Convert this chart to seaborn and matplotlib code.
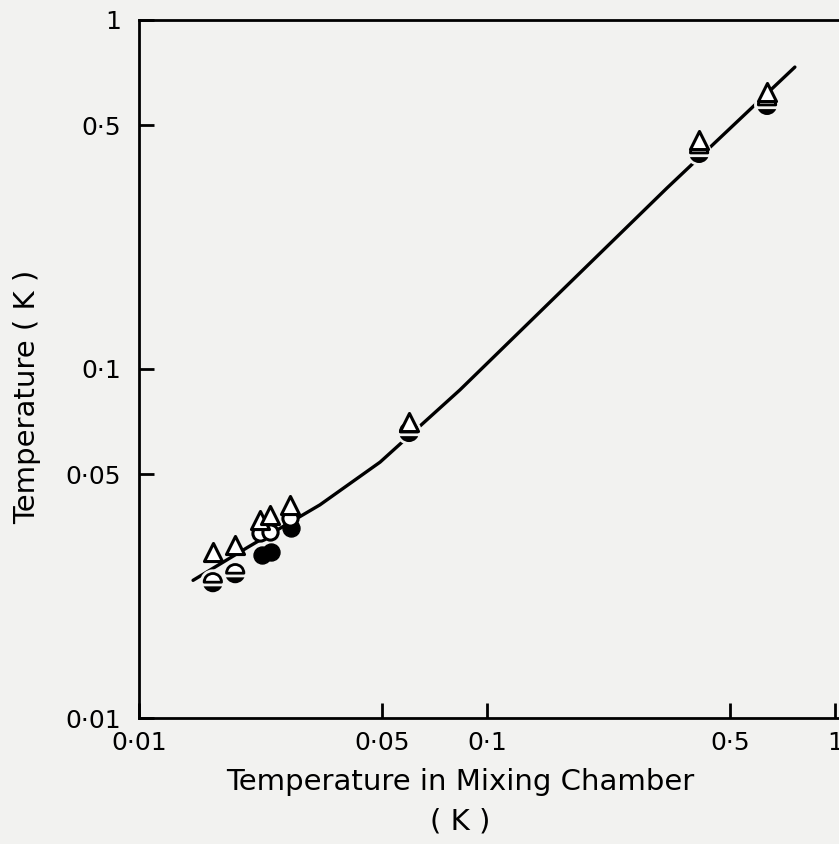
import numpy as np
import pandas as pd
import seaborn as sns
from matplotlib import pyplot as plt
from matplotlib import patheffects as pe
from matplotlib.ticker import FixedLocator, NullLocator, FixedFormatter

# mixing chamber temperature vs measured temperature (K)
tri_x = [0.0163, 0.0189, 0.0223, 0.0238, 0.0272, 0.0597, 0.407, 0.638]
tri_y = [0.0299, 0.0313, 0.0369, 0.0382, 0.0408, 0.0705, 0.453, 0.622]

open_x = [0.0223, 0.0238, 0.0272]
open_y = [0.0339, 0.0341, 0.0374]

half_x = [0.0163, 0.0189, 0.0597, 0.407, 0.638]
half_y = [0.0245, 0.0260, 0.0660, 0.416, 0.571]

full_x = [0.0225, 0.0240, 0.0273]
full_y = [0.0293, 0.0299, 0.0350]

curve_x = [0.0143, 0.0206, 0.0331, 0.0493, 0.0836, 0.329, 0.767]
curve_y = [0.0248, 0.0309, 0.0408, 0.0541, 0.0871, 0.330, 0.733]

tick_vals = [0.01, 0.05, 0.1, 0.5, 1]
tick_text = ["0\u00b701", "0\u00b705", "0\u00b71", "0\u00b75", "1"]

BG = "#f2f2f0"


def main():
    sns.set_style("ticks")
    plt.rcParams['font.family'] = ['DejaVu Sans']
    fig = plt.figure(figsize=(8.39, 8.44), dpi=100, facecolor=BG)
    ax = fig.add_axes([139 / 839, 1 - 718 / 844, 1 - 139 / 839, (718 - 20) / 844])
    ax.set_facecolor(BG)

    curve = pd.DataFrame({"x": curve_x, "y": curve_y})
    sns.lineplot(data=curve, x="x", y="y", ax=ax, color="black", lw=2.4,
                 sort=False, estimator=None, zorder=2)

    ax.plot(half_x, half_y, ls="none", marker="o", ms=12.5, fillstyle="bottom",
            markerfacecolor="black", markerfacecoloralt="white",
            markeredgecolor="black", markeredgewidth=2, zorder=3,
            path_effects=[pe.withStroke(linewidth=6, foreground=BG)])
    sns.scatterplot(x=full_x, y=full_y, ax=ax, marker="o", s=150,
                    color="black", edgecolor="black", zorder=3)
    sns.scatterplot(x=open_x, y=open_y, ax=ax, marker="o", s=120,
                    facecolor="white", edgecolor="black", linewidth=2.2, zorder=4)
    sns.scatterplot(x=tri_x, y=tri_y, ax=ax, marker="^", s=170,
                    facecolor="white", edgecolor="black", linewidth=2.2, zorder=5)

    ax.set_xscale("log")
    ax.set_yscale("log")
    ax.set_xlim(0.01, 1.027)
    ax.set_ylim(0.01, 1)

    for axis in (ax.xaxis, ax.yaxis):
        axis.set_major_locator(FixedLocator(tick_vals))
        axis.set_major_formatter(FixedFormatter(tick_text))
        axis.set_minor_locator(NullLocator())
    ax.tick_params(axis="both", direction="in", length=11, width=2,
                   labelsize=18, colors="black")
    ax.tick_params(axis="y", pad=13)
    ax.tick_params(axis="x", pad=9)

    for s in ("left", "bottom", "top"):
        ax.spines[s].set_linewidth(2)
        ax.spines[s].set_color("black")
    ax.spines["right"].set_visible(False)

    ax.set_xlabel("Temperature in Mixing Chamber\n( K )", fontsize=21,
                  linespacing=1.5, color="black")
    ax.xaxis.set_label_coords((458 - 139) / 696, -0.072)
    ax.xaxis.label.set_va("top")
    ax.set_ylabel("Temperature ( K )", fontsize=21, color="black")
    ax.yaxis.set_label_coords(-0.14, 0.46)

    plt.savefig("out.png", dpi=100, facecolor=BG)


if __name__ == '__main__':
    main()
